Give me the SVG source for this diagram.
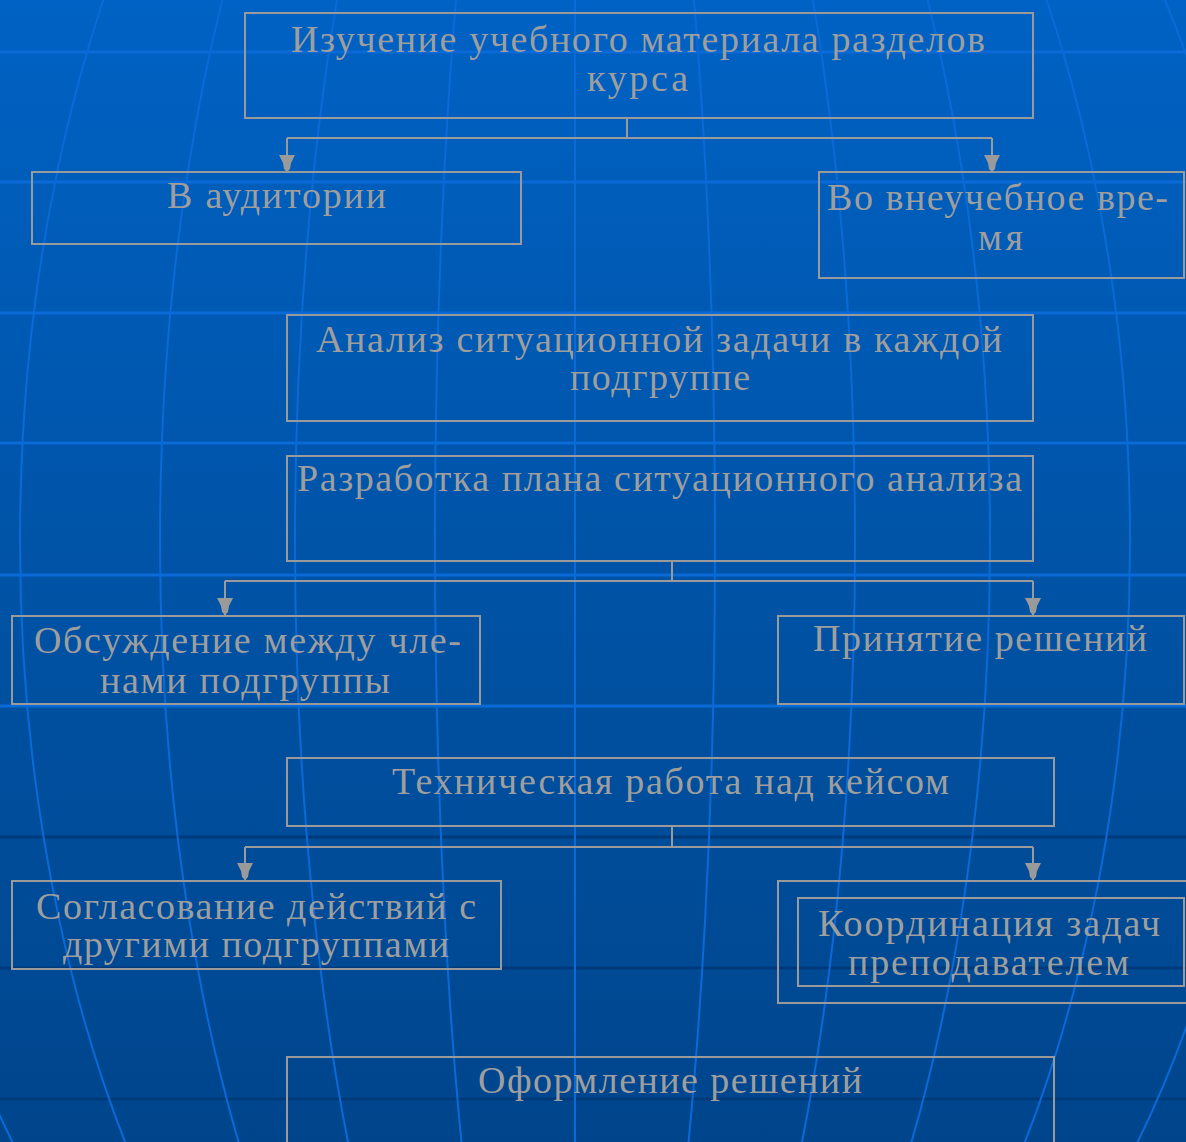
<svg xmlns="http://www.w3.org/2000/svg" width="1186" height="1142" viewBox="0 0 1186 1142">
<style>
.box{fill:none;stroke:#9a9a9a;stroke-width:2}
.t{font-family:"Liberation Serif","DejaVu Serif",serif;font-size:38px;fill:#9e9e9e}
.con{fill:none;stroke:#9a9a9a;stroke-width:2}
.mer{fill:none;stroke:#0a6ad8;stroke-width:2}
.hl{stroke:#0a6ad8;stroke-width:3}
.hd{stroke:#003a7a;stroke-width:3}
</style>
<defs>
<linearGradient id="bg" x1="0" y1="0" x2="0" y2="1">
<stop offset="0" stop-color="#0062c4"/>
<stop offset="0.5" stop-color="#0053a6"/>
<stop offset="1" stop-color="#00458c"/>
</linearGradient>
<marker id="arr" markerUnits="userSpaceOnUse" markerWidth="20" markerHeight="20" refX="0" refY="0" viewBox="-18 -10 20 20" orient="auto" overflow="visible">
<path d="M-17,-8 L-17,8 L-9,4 L-3,3 L0,0 L-3,-3 L-9,-4 Z" fill="#9a9a9a"/>
</marker>
</defs>
<g id="background">
<rect x="0" y="0" width="1186" height="1142" fill="url(#bg)"/>
<g>
<line class="hl" x1="0" y1="52" x2="1186" y2="52"/>
<line class="hl" x1="0" y1="182" x2="1186" y2="182"/>
<line class="hl" x1="0" y1="313" x2="1186" y2="313"/>
<line class="hl" x1="0" y1="443" x2="1186" y2="443"/>
<line class="hl" x1="0" y1="575" x2="1186" y2="575"/>
<line class="hl" x1="0" y1="706" x2="1186" y2="706"/>
<line class="hd" x1="0" y1="837" x2="1186" y2="837"/>
<line class="hd" x1="0" y1="968" x2="1186" y2="968"/>
<line class="hd" x1="0" y1="1099" x2="1186" y2="1099"/>
</g>
<g>
<line class="mer" x1="575" y1="0" x2="575" y2="1142"/>
<ellipse class="mer" cx="575" cy="541" rx="140" ry="1026"/>
<ellipse class="mer" cx="575" cy="541" rx="280" ry="1026"/>
<ellipse class="mer" cx="575" cy="541" rx="415" ry="1026"/>
<ellipse class="mer" cx="575" cy="541" rx="555" ry="1026"/>
<ellipse class="mer" cx="575" cy="541" rx="694" ry="1026"/>
</g>
</g>
<g id="connectors">
<path class="con" d="M627,118 V138"/>
<path class="con" d="M287,138 H992"/>
<path class="con" d="M287,138 V172" marker-end="url(#arr)"/>
<path class="con" d="M992,138 V172" marker-end="url(#arr)"/>
<path class="con" d="M672,561 V581"/>
<path class="con" d="M225,581 H1033"/>
<path class="con" d="M225,581 V615" marker-end="url(#arr)"/>
<path class="con" d="M1033,581 V615" marker-end="url(#arr)"/>
<path class="con" d="M672,826 V847"/>
<path class="con" d="M245,847 H1033"/>
<path class="con" d="M245,847 V880" marker-end="url(#arr)"/>
<path class="con" d="M1033,847 V880" marker-end="url(#arr)"/>
</g>
<g id="n1">
<rect class="box" x="245" y="13" width="788" height="105"/>
<text class="t" x="291" y="52" textLength="694" lengthAdjust="spacing">Изучение учебного материала разделов</text>
<text class="t" x="587" y="91" textLength="101" lengthAdjust="spacing">курса</text>
</g>
<g id="n2">
<rect class="box" x="32" y="172" width="489" height="72"/>
<text class="t" x="167" y="208" textLength="219" lengthAdjust="spacing">В аудитории</text>
</g>
<g id="n3">
<rect class="box" x="819" y="172" width="365" height="106"/>
<text class="t" x="827" y="210" textLength="341" lengthAdjust="spacing">Во внеучебное вре-</text>
<text class="t" x="978" y="250" textLength="45" lengthAdjust="spacing">мя</text>
</g>
<g id="n4">
<rect class="box" x="287" y="315" width="746" height="106"/>
<text class="t" x="316" y="352" textLength="686" lengthAdjust="spacing">Анализ ситуационной задачи в каждой</text>
<text class="t" x="570" y="390" textLength="180" lengthAdjust="spacing">подгруппе</text>
</g>
<g id="n5">
<rect class="box" x="287" y="456" width="746" height="105"/>
<text class="t" x="297" y="491" textLength="725" lengthAdjust="spacing">Разработка плана ситуационного анализа</text>
</g>
<g id="n6">
<rect class="box" x="12" y="616" width="468" height="88"/>
<text class="t" x="34" y="653" textLength="427" lengthAdjust="spacing">Обсуждение между чле-</text>
<text class="t" x="100" y="693" textLength="290" lengthAdjust="spacing">нами подгруппы</text>
</g>
<g id="n7">
<rect class="box" x="778" y="616" width="406" height="88"/>
<text class="t" x="813" y="651" textLength="334" lengthAdjust="spacing">Принятие решений</text>
</g>
<g id="n8">
<rect class="box" x="287" y="758" width="767" height="68"/>
<text class="t" x="392" y="794" textLength="557" lengthAdjust="spacing">Техническая работа над кейсом</text>
</g>
<g id="n9">
<rect class="box" x="12" y="881" width="489" height="88"/>
<text class="t" x="36" y="919" textLength="440" lengthAdjust="spacing">Согласование действий с</text>
<text class="t" x="63" y="957" textLength="386" lengthAdjust="spacing">другими подгруппами</text>
</g>
<g id="n10">
<rect class="box" x="778" y="881" width="420" height="122"/>
<rect class="box" x="798" y="898" width="386" height="88"/>
<text class="t" x="818" y="936" textLength="342" lengthAdjust="spacing">Координация задач</text>
<text class="t" x="848" y="975" textLength="281" lengthAdjust="spacing">преподавателем</text>
</g>
<g id="n11">
<rect class="box" x="287" y="1057" width="767" height="100"/>
<text class="t" x="478" y="1093" textLength="384" lengthAdjust="spacing">Оформление решений</text>
</g>
</svg>
